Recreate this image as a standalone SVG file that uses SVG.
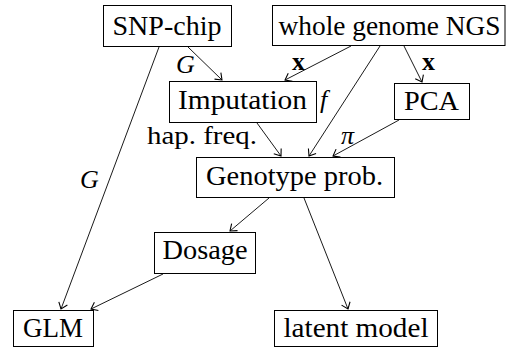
<svg xmlns="http://www.w3.org/2000/svg" width="506" height="348" viewBox="0 0 506 348">
<defs>
<style>
.box{fill:#fff;stroke:#000;stroke-width:1}
text{font-family:'Liberation Serif','DejaVu Serif',serif;fill:#000}
.t{font-size:27px;text-anchor:middle}
.lbl{font-size:26px}
.it{font-style:italic}
.bf{font-weight:bold}
.e{fill:none;stroke:#000;stroke-width:0.9;marker-end:url(#ah)}
</style>
<marker id="ah" markerUnits="userSpaceOnUse" markerWidth="12" markerHeight="12" viewBox="-6 -5 8 10" refX="0" refY="0" orient="auto">
<path d="M -5 -3.8 Q -1.2 -0.9 0 0 Q -1.2 0.9 -5 3.8" fill="none" stroke="#000" stroke-width="0.9"/>
</marker>
</defs>
<rect width="506" height="348" fill="#fff"/>
<g id="connectors">
<line class="e" x1="188" y1="47" x2="222" y2="80"/>
<line class="e" x1="159" y1="47" x2="61" y2="309"/>
<line class="e" x1="351" y1="46" x2="285" y2="80"/>
<line class="e" x1="380" y1="46" x2="309" y2="156"/>
<line class="e" x1="404" y1="46" x2="422" y2="82"/>
<line class="e" x1="257" y1="123" x2="281" y2="156"/>
<line class="e" x1="399" y1="120" x2="333" y2="156"/>
<line class="e" x1="269" y1="198" x2="230" y2="231"/>
<line class="e" x1="304" y1="198" x2="348" y2="309"/>
<line class="e" x1="163" y1="274" x2="91" y2="309"/>
</g>
<g id="edge-labels">
<text class="lbl it" x="176" y="73">G</text>
<text class="lbl it" x="80" y="188">G</text>
<text class="lbl bf" x="292" y="70">x</text>
<text class="lbl bf" x="422" y="70">x</text>
<text class="lbl it" x="320" y="108">f</text>
<text class="lbl it" x="341" y="144">π</text>
<text class="lbl" x="147" y="144" textLength="110" lengthAdjust="spacingAndGlyphs">hap. freq.</text>
</g>
<g id="snp-chip">
<rect class="box" x="103.5" y="5.5" width="128" height="41"/>
<text class="t" x="167" y="35" textLength="109" lengthAdjust="spacingAndGlyphs">SNP-chip</text>
</g>
<g id="ngs">
<rect class="box" x="272.5" y="5.5" width="232.5" height="40"/>
<text class="t" x="389.5" y="35" textLength="222" lengthAdjust="spacingAndGlyphs">whole genome NGS</text>
</g>
<g id="imputation">
<rect class="box" x="169.5" y="81.5" width="147" height="41"/>
<text class="t" x="242.5" y="109" textLength="129" lengthAdjust="spacingAndGlyphs">Imputation</text>
</g>
<g id="pca">
<rect class="box" x="394.5" y="83.5" width="75" height="36"/>
<text class="t" x="431.5" y="110" textLength="55" lengthAdjust="spacingAndGlyphs">PCA</text>
</g>
<g id="genotype">
<rect class="box" x="196.5" y="157.5" width="198" height="40"/>
<text class="t" x="294.5" y="185" textLength="177" lengthAdjust="spacingAndGlyphs">Genotype prob.</text>
</g>
<g id="dosage">
<rect class="box" x="154.5" y="232.5" width="101" height="41"/>
<text class="t" x="205" y="259" textLength="85" lengthAdjust="spacingAndGlyphs">Dosage</text>
</g>
<g id="glm">
<rect class="box" x="13.5" y="310.5" width="80" height="36"/>
<text class="t" x="53" y="337" textLength="60" lengthAdjust="spacingAndGlyphs">GLM</text>
</g>
<g id="latent">
<rect class="box" x="274.5" y="310.5" width="163" height="36"/>
<text class="t" x="356" y="337" textLength="145" lengthAdjust="spacingAndGlyphs">latent model</text>
</g>
</svg>
